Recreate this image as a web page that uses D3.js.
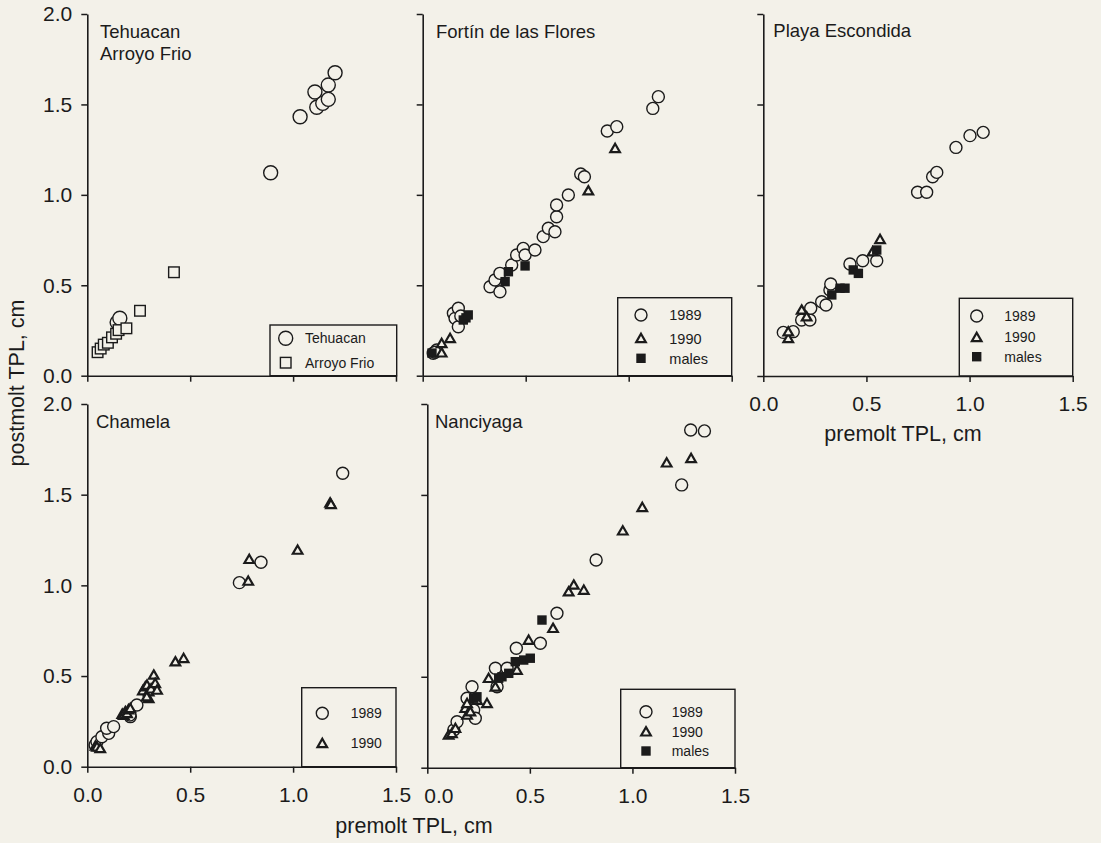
<!DOCTYPE html>
<html>
<head>
<meta charset="utf-8">
<script src="https://cdn.jsdelivr.net/npm/d3@7"></script>
<style>
  html, body { margin: 0; padding: 0; background: #f3f1e9; }
  svg { display: block; }
  text { font-family: "Liberation Sans", Arial, Helvetica, sans-serif; fill: #1b1b1b; }
</style>
</head>
<body>
<svg id="chart" width="1101" height="843"></svg>
<script>
// premolt vs postmolt TPL (cm), one array per site and series: [premolt, postmolt]
const tehuacan = [[0.891,1.122],[1.034,1.432],[1.106,1.569],[1.115,1.484],[1.144,1.506],[1.171,1.528],[1.171,1.607],[1.204,1.675],[0.145,0.295],[0.158,0.318]];
const arroyoFrio = [[0.050,0.130],[0.065,0.150],[0.080,0.172],[0.100,0.182],[0.120,0.212],[0.140,0.232],[0.152,0.252],[0.190,0.262],[0.256,0.359],[0.421,0.572]];

const fortin1989 = [[0.051,0.124],[0.068,0.142],[0.060,0.130],[0.149,0.345],[0.157,0.317],[0.173,0.373],[0.173,0.271],[0.185,0.330],[0.327,0.492],[0.351,0.529],[0.375,0.464],[0.375,0.566],[0.432,0.612],[0.456,0.667],[0.488,0.704],[0.497,0.667],[0.545,0.695],[0.585,0.769],[0.610,0.815],[0.642,0.796],[0.650,0.879],[0.650,0.944],[0.707,0.999],[0.767,1.115],[0.785,1.100],[0.896,1.353],[0.942,1.377],[1.117,1.478],[1.144,1.543]];
const fortin1990 = [[0.092,0.127],[0.092,0.179],[0.133,0.207],[0.804,1.023],[0.934,1.257]];
const fortinMales = [[0.045,0.125],[0.197,0.308],[0.210,0.320],[0.221,0.336],[0.400,0.520],[0.416,0.575],[0.497,0.607]];

const playa1989 = [[0.097,0.241],[0.145,0.245],[0.186,0.309],[0.226,0.309],[0.230,0.374],[0.283,0.410],[0.304,0.392],[0.323,0.475],[0.327,0.508],[0.420,0.619],[0.482,0.637],[0.550,0.637],[0.748,1.015],[0.792,1.015],[0.821,1.101],[0.841,1.125],[0.934,1.263],[1.002,1.328],[1.066,1.346]];
const playa1990 = [[0.121,0.208],[0.121,0.245],[0.186,0.365],[0.210,0.328],[0.530,0.687],[0.566,0.755]];
const playaMales = [[0.332,0.448],[0.372,0.485],[0.396,0.485],[0.436,0.586],[0.461,0.567],[0.550,0.696]];

const chamela1989 = [[0.038,0.120],[0.047,0.138],[0.071,0.165],[0.104,0.184],[0.094,0.212],[0.128,0.221],[0.209,0.276],[0.207,0.285],[0.241,0.340],[0.739,1.015],[0.844,1.127],[1.241,1.618]];
const chamela1990 = [[0.040,0.115],[0.047,0.110],[0.063,0.101],[0.170,0.290],[0.177,0.285],[0.185,0.305],[0.193,0.294],[0.200,0.315],[0.209,0.322],[0.270,0.420],[0.282,0.441],[0.290,0.450],[0.298,0.414],[0.298,0.377],[0.289,0.386],[0.310,0.430],[0.323,0.506],[0.330,0.460],[0.339,0.423],[0.428,0.579],[0.468,0.598],[0.782,1.024],[0.787,1.144],[1.022,1.195],[1.180,1.455],[1.184,1.447]];

const nanci1989 = [[0.129,0.207],[0.145,0.253],[0.194,0.382],[0.218,0.445],[0.226,0.317],[0.234,0.272],[0.332,0.547],[0.340,0.445],[0.389,0.547],[0.434,0.657],[0.551,0.684],[0.632,0.849],[0.823,1.142],[1.240,1.555],[1.284,1.857],[1.351,1.852]];
const nanci1990 = [[0.104,0.180],[0.120,0.189],[0.137,0.217],[0.185,0.327],[0.194,0.290],[0.194,0.354],[0.210,0.308],[0.242,0.372],[0.291,0.354],[0.299,0.492],[0.332,0.445],[0.437,0.537],[0.494,0.702],[0.613,0.767],[0.689,0.968],[0.714,1.005],[0.763,0.977],[0.953,1.303],[1.048,1.432],[1.167,1.677],[1.286,1.701]];
const nanciMales = [[0.226,0.382],[0.242,0.390],[0.348,0.492],[0.364,0.500],[0.397,0.519],[0.429,0.583],[0.470,0.592],[0.502,0.602],[0.559,0.812]];

const xTickValues = [0.0, 0.5, 1.0, 1.5];
const yTickValues = [0.0, 0.5, 1.0, 1.5, 2.0];
const xTitle = "premolt TPL, cm";
const yTitle = "postmolt TPL, cm";

const ink = "#1b1b1b";
const bg = "#f3f1e9";
const svg = d3.select("#chart");

// Panel layout: plotting frame, title lines, which axes carry labels, legend box
const panels = [
  { box: [87.3, 396, 14, 375.7], title: ["Tehuacan", "Arroyo Frio"], titleXY: [100, 37.7],
    xLabels: false, yLabels: true, r: 7,
    series: [ { data: tehuacan, kind: "circle", name: "Tehuacan" },
              { data: arroyoFrio, kind: "openSquare", name: "Arroyo Frio" } ],
    legend: { x: 270, y: 325, w: 126.7, sym: 15.7, txt: 35, rows: [13.3, 37.7], size: 14 } },
  { box: [422.7, 731.7, 14, 375.7], title: ["Fortín de las Flores"], titleXY: [436, 38.3],
    xLabels: false, yLabels: false, r: 6,
    series: [ { data: fortin1989, kind: "circle", name: "1989" },
              { data: fortin1990, kind: "triangle", name: "1990" },
              { data: fortinMales, kind: "square", name: "males" } ],
    legend: { x: 617.7, y: 297.7, w: 114, sym: 23.3, txt: 51.6, rows: [17.3, 40.6, 60.6], size: 14.5 } },
  { box: [763.3, 1072.7, 14, 376], title: ["Playa Escondida"], titleXY: [773.3, 37.3],
    xLabels: true, yLabels: false, r: 6, xTitle: true,
    series: [ { data: playa1989, kind: "circle", name: "1989" },
              { data: playa1990, kind: "triangle", name: "1990" },
              { data: playaMales, kind: "square", name: "males" } ],
    legend: { x: 959.3, y: 298.3, w: 113.4, sym: 17.4, txt: 45, rows: [17.7, 39, 58.4], size: 14 } },
  { box: [87.3, 396, 404, 766.7], title: ["Chamela"], titleXY: [96, 428.3],
    xLabels: true, yLabels: true, r: 6,
    series: [ { data: chamela1989, kind: "circle", name: "1989" },
              { data: chamela1990, kind: "triangle", name: "1990" } ],
    legend: { x: 301.7, y: 687.7, w: 94.3, sym: 20.6, txt: 49, rows: [25.6, 55.6], size: 14 } },
  { box: [427.3, 735, 404, 767.7], title: ["Nanciyaga"], titleXY: [435, 428.3],
    xLabels: true, yLabels: false, r: 6, shiftFirstX: 11,
    series: [ { data: nanci1989, kind: "circle", name: "1989" },
              { data: nanci1990, kind: "triangle", name: "1990" },
              { data: nanciMales, kind: "square", name: "males" } ],
    legend: { x: 620.7, y: 689.3, w: 114.3, sym: 25.3, txt: 51, rows: [22.4, 42.4, 61.7], size: 14 } }
];

const triangle = d3.symbol().type(d3.symbolTriangle).size(40);

function drawMark(g, kind, cx, cy, r) {
  if (kind === "circle") {
    g.append("circle").attr("cx", cx).attr("cy", cy).attr("r", r)
      .attr("fill", bg).attr("stroke", ink).attr("stroke-width", 1.4);
  } else if (kind === "triangle") {
    g.append("path").attr("d", triangle()).attr("transform", `translate(${cx},${cy + 1})`)
      .attr("fill", bg).attr("stroke", ink).attr("stroke-width", 2.2).attr("stroke-linejoin", "miter");
  } else if (kind === "square") {
    g.append("rect").attr("x", cx - 4.7).attr("y", cy - 4.7).attr("width", 9.4).attr("height", 9.4)
      .attr("fill", ink);
  } else if (kind === "openSquare") {
    g.append("rect").attr("x", cx - 5.3).attr("y", cy - 5.3).attr("width", 10.6).attr("height", 10.6)
      .attr("fill", bg).attr("stroke", ink).attr("stroke-width", 1.4);
  }
}

panels.forEach(p => {
  const [x0, x1, y0, y1] = p.box;
  const x = d3.scaleLinear().domain([0, 1.5]).range([x0, x1]);
  const y = d3.scaleLinear().domain([0, 2.0]).range([y1, y0]);
  const g = svg.append("g");

  // axes
  const xAxis = d3.axisBottom(x).tickValues(xTickValues).tickSize(6).tickSizeOuter(0).tickPadding(14)
    .tickFormat(p.xLabels ? d3.format(".1f") : () => "");
  const yAxis = d3.axisLeft(y).tickValues(yTickValues).tickSize(6).tickSizeOuter(0).tickPadding(9)
    .tickFormat(p.yLabels ? d3.format(".1f") : () => "");

  const gx = g.append("g").attr("transform", `translate(0,${y1})`).call(xAxis);
  const gy = g.append("g").attr("transform", `translate(${x0},0)`).call(yAxis);
  [gx, gy].forEach(a => {
    a.select(".domain").attr("stroke", ink).attr("stroke-width", 1.6);
    a.selectAll(".tick line").attr("stroke", ink).attr("stroke-width", 1.5);
    a.selectAll(".tick text").attr("font-size", 21).attr("fill", ink)
      .attr("font-family", '"Liberation Sans", Arial, Helvetica, sans-serif');
  });
  if (p.shiftFirstX) {
    gx.selectAll(".tick text").filter((d, i) => i === 0).attr("dx", p.shiftFirstX);
  }

  // panel title
  p.title.forEach((t, i) => {
    g.append("text").attr("x", p.titleXY[0]).attr("y", p.titleXY[1] + i * 22.3)
      .attr("font-size", 18.5).text(t);
  });

  // points
  const marks = g.append("g");
  p.series.forEach(s => {
    s.data.forEach(d => drawMark(marks, s.kind, x(d[0]), y(d[1]), p.r));
  });

  // legend box
  const L = p.legend;
  const lg = g.append("g");
  lg.append("rect").attr("x", L.x).attr("y", L.y).attr("width", L.w).attr("height", y1 - L.y)
    .attr("fill", "none").attr("stroke", ink).attr("stroke-width", 1.4);
  p.series.forEach((s, i) => {
    const cy = L.y + L.rows[i];
    drawMark(lg, s.kind, L.x + L.sym, cy, p.r);
    lg.append("text").attr("x", L.x + L.txt).attr("y", cy).attr("dy", "0.36em")
      .attr("font-size", L.size).text(s.name);
  });

  if (p.xTitle) {
    g.append("text").attr("x", (x0 + x1) / 2 - 15).attr("y", 441)
      .attr("text-anchor", "middle").attr("font-size", 21.5).text(xTitle);
  }
});

// shared axis titles
svg.append("text").attr("x", 414).attr("y", 833).attr("text-anchor", "middle")
  .attr("font-size", 21.5).text(xTitle);
svg.append("text").attr("transform", "translate(24,383) rotate(-90)").attr("text-anchor", "middle")
  .attr("font-size", 21.5).text(yTitle);
</script>
</body>
</html>
